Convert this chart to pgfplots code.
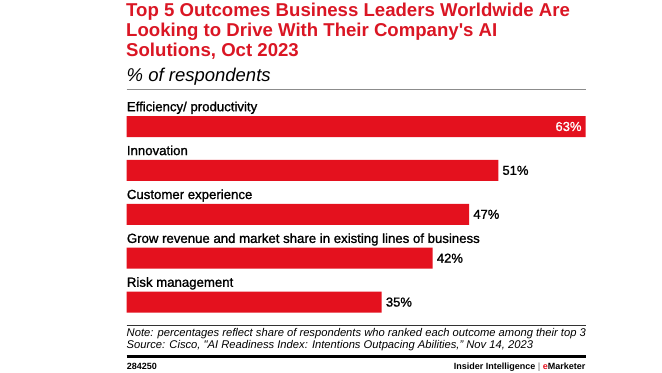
\documentclass[border=0pt]{standalone}
\usepackage{fontspec}
\setmainfont{Liberation Sans}
\newfontfamily\medfont[FakeBold=1.2]{Liberation Sans}
\usepackage{pgfplots}
\pgfplotsset{compat=1.18}
\definecolor{emred}{RGB}{228,17,30}
\definecolor{titlered}{RGB}{218,22,36}
\definecolor{rulegrey}{RGB}{140,140,140}
\begin{document}
\begin{tikzpicture}[x=1bp,y=1bp]
\useasboundingbox (0,0) rectangle (662,372);
% title
\node[anchor=base west,inner sep=0,text=titlered,font=\fontsize{18.6bp}{20bp}\selectfont\bfseries] at (126,355.3) {Top 5 Outcomes Business Leaders Worldwide Are};
\node[anchor=base west,inner sep=0,text=titlered,font=\fontsize{18.6bp}{20bp}\selectfont\bfseries] at (126,335.3) {Looking to Drive With Their Company\textquotesingle s AI};
\node[anchor=base west,inner sep=0,text=titlered,font=\fontsize{18.6bp}{20bp}\selectfont\bfseries] at (126,315.3) {Solutions, Oct 2023};
\node[anchor=base west,inner sep=0,font=\fontsize{18.5bp}{20bp}\selectfont\itshape] at (126.5,291) {\% of respondents};
\draw[rulegrey,line width=1.3bp] (126.7,282.7) -- (585.7,282.7);
\begin{axis}[
  at={(126.7bp,47.95bp)}, anchor=south west,
  scale only axis, width=459bp, height=219.5bp,
  xmin=0, xmax=63, ymin=-0.5, ymax=4.5,
  y dir=reverse, hide axis, clip=false,
  xbar, bar width=21bp,
]
\addplot[fill=emred, draw=none] coordinates {(63,0) (51,1) (47,2) (42,3) (35,4)};
\foreach \lab [count=\i from 0] in {Efficiency/ productivity,Innovation,Customer experience,Grow revenue and market share in existing lines of business,Risk management}{
  \edef\temp{\noexpand\node[anchor=base west,inner sep=0,font=\noexpand\fontsize{13.2bp}{15bp}\noexpand\selectfont\noexpand\medfont] at (axis cs:0,\i) [yshift=15.3bp] {\lab};}
  \temp
}
\node[anchor=east,inner sep=0,text=white,font=\fontsize{13bp}{15bp}\selectfont\medfont] at (axis cs:63,0) [xshift=-4bp] {63\%};
\node[anchor=west,inner sep=0,font=\fontsize{13bp}{15bp}\selectfont\medfont] at (axis cs:51,1) [xshift=4bp] {51\%};
\node[anchor=west,inner sep=0,font=\fontsize{13bp}{15bp}\selectfont\medfont] at (axis cs:47,2) [xshift=4bp] {47\%};
\node[anchor=west,inner sep=0,font=\fontsize{13bp}{15bp}\selectfont\medfont] at (axis cs:42,3) [xshift=4bp] {42\%};
\node[anchor=west,inner sep=0,font=\fontsize{13bp}{15bp}\selectfont\medfont] at (axis cs:35,4) [xshift=4bp] {35\%};
\end{axis}
% footer
\draw[black!80,line width=0.9bp] (126.7,46.3) -- (585.7,46.3);
\node[anchor=base west,inner sep=0,align=left,font=\fontsize{11.2bp}{9.3bp}\selectfont\itshape] at (126.5,23.7) {Note: percentages reflect share of respondents who ranked each outcome among their top 3\\Source: Cisco, \textquotedbl AI Readiness Index: Intentions Outpacing Abilities,'' Nov 14, 2023};
\draw[black,line width=3bp] (126.7,15.5) -- (585.7,15.5);
\node[anchor=base west,inner sep=0,font=\fontsize{9bp}{10bp}\selectfont\bfseries] at (126.7,2.2) {284250};
\node[anchor=base east,inner sep=0,font=\fontsize{9bp}{10bp}\selectfont\bfseries] at (585.7,2.2) {Insider Intelligence {\color{black!40}|} {\color{emred}e}Marketer};
\end{tikzpicture}
\end{document}
